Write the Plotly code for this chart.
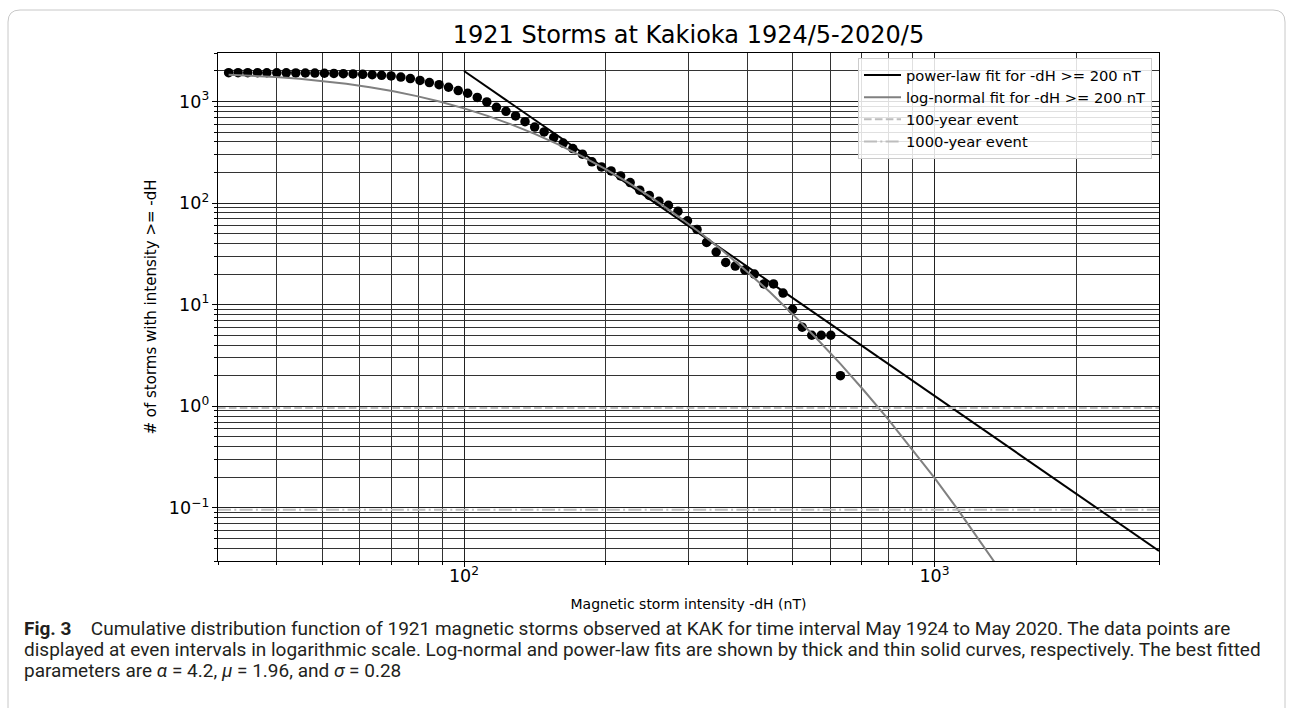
import math
import plotly.graph_objects as go

# ---------------- data ----------------
storm_dH = [31.6, 33.1, 34.7, 36.4, 38.1, 40.0, 41.9, 43.9, 46.0, 48.2,
            50.5, 52.9, 55.4, 58.1, 60.9, 63.8, 66.8, 70.0, 73.4, 76.9,
            80.6, 84.4, 88.5, 92.7, 97.2, 101.8, 106.7, 111.8, 117.2, 122.8,
            128.7, 134.8, 141.3, 148.0, 155.1, 162.5, 170.3, 178.5, 187.0, 196.0,
            205.4, 215.2, 225.5, 236.3, 247.6, 259.5, 271.9, 284.9, 298.5, 312.8,
            327.8, 343.5, 359.9, 377.2, 395.2, 414.1, 434.0, 454.8, 476.5, 499.3,
            523.3, 548.3, 574.5, 602.0, 631.0]
storm_count = [1921, 1921, 1920, 1919, 1918, 1916, 1914, 1911, 1907, 1902,
               1896, 1888, 1878, 1866, 1851, 1833, 1810, 1782, 1740, 1680,
               1610, 1533, 1465, 1380, 1280, 1205, 1095, 990, 877, 801,
               720, 632, 560, 501, 441, 390, 344, 303, 255, 227,
               207, 185, 159, 134, 119, 104, 95, 83, 67, 55,
               41, 33, 26, 24, 22, 20, 16, 16, 13, 9,
               6, 5, 5, 5, 2]

powerlaw_dH = [100, 3000]
powerlaw_count = [1995, 0.0377]

lognormal_dH = [31.6, 35.5, 39.8, 44.7, 50.1, 56.2, 63.1, 70.8, 79.4, 89.1,
                100, 112.2, 125.9, 141.3, 158.5, 177.8, 199.5, 223.9, 251.2, 281.8,
                316.2, 354.8, 398.1, 446.7, 501.2, 562.3, 631.0, 707.9, 794.3, 891.3,
                1000, 1122, 1259, 1413, 1585]
lognormal_count = [1833, 1792, 1738, 1671, 1589, 1493, 1382, 1260, 1129, 992,
                   855, 722, 595, 480, 378, 290, 217, 158, 112, 77.3,
                   51.9, 33.9, 21.5, 13.3, 7.93, 4.62, 2.61, 1.43, 0.76, 0.392,
                   0.197, 0.0955, 0.0452, 0.0207, 0.00915]

event_names = ["100-year event", "1000-year event"]
event_levels = [0.96, 0.096]

x_limits = [30, 3000]
y_limits = [0.03, 3000]

# plotly prints 10^0 and 10^1 as "1" and "10": relabel them as powers
y_label_alias = {"1": "10<sup>0</sup>", "10": "10<sup>1</sup>"}

caption_lines = [
    "<b>Fig. 3</b>\u2003Cumulative distribution function of 1921 magnetic storms observed at KAK "
    "for time interval May 1924 to May 2020. The data points are",
    "displayed at even intervals in logarithmic scale. Log-normal and power-law fits are shown "
    "by thick and thin solid curves, respectively. The best fitted",
    "parameters are <i>α</i> = 4.2, <i>μ</i> = 1.96, and <i>σ</i> = 0.28",
]

# ---------------- layout constants ----------------
W, H = 1293, 708
L, R, T, B = 218, 134, 53, 147
PW, PH = W - L - R, H - T - B
FONT = "DejaVu Sans"


def px2paper(px, py):
    return (px - L) / PW, (H - B - py) / PH


fig = go.Figure()

fig.add_trace(go.Scatter(
    x=storm_dH, y=storm_count, mode="markers",
    marker=dict(color="black", size=9.5, line=dict(width=0)),
    showlegend=False, hoverinfo="skip"))

fig.add_trace(go.Scatter(
    x=powerlaw_dH, y=powerlaw_count, mode="lines",
    line=dict(color="black", width=2),
    name="power-law fit for -dH >= 200 nT"))

fig.add_trace(go.Scatter(
    x=lognormal_dH, y=lognormal_count, mode="lines",
    line=dict(color="#808080", width=2),
    name="log-normal fit for -dH >= 200 nT"))

dashes = ["7.6px,3.3px", "13px,3.3px,2px,3.3px"]
for name, lvl, dsh in zip(event_names, event_levels, dashes):
    fig.add_trace(go.Scatter(
        x=x_limits, y=[lvl, lvl], mode="lines",
        line=dict(color="#bdbdbd", width=2, dash=dsh),
        name=name))

axis_common = dict(
    type="log", dtick=1, exponentformat="power", showexponent="all",
    showgrid=True, gridcolor="#222222", gridwidth=1,
    ticks="outside", ticklen=5, tickwidth=1, tickcolor="black",
    showline=True, linecolor="black", linewidth=1, mirror=True,
    zeroline=False, automargin=False,
    tickfont=dict(family=FONT, size=14, color="black"),
    minor=dict(dtick="D1", showgrid=True, gridcolor="#333333", gridwidth=1,
               ticks="outside", ticklen=3, tickwidth=1, tickcolor="black"),
)

fig.update_layout(
    template="none",
    width=W, height=H,
    margin=dict(l=L, r=R, t=T, b=B, pad=0),
    paper_bgcolor="white", plot_bgcolor="white",
    font=dict(family=FONT, size=14, color="black"),
    title=dict(text="1921 Storms at Kakioka 1924/5-2020/5",
               font=dict(family=FONT, size=24, color="black"),
               x=(L + PW / 2) / W, xanchor="center",
               y=1 - 35 / H, yanchor="middle", yref="container"),
    xaxis=dict(axis_common, range=[math.log10(x_limits[0]), math.log10(x_limits[1])],
               ticklabelstandoff=-5,
               title=dict(text="Magnetic storm intensity -dH (nT)",
                          font=dict(family=FONT, size=14), standoff=13)),
    yaxis=dict(axis_common, range=[math.log10(y_limits[0]), math.log10(y_limits[1])],
               labelalias=y_label_alias,
               title=dict(text="# of storms with intensity >= -dH",
                          font=dict(family=FONT, size=15), standoff=8)),
    legend=dict(x=px2paper(858, 0)[0], y=px2paper(0, 58)[1],
                xanchor="left", yanchor="top",
                bgcolor="rgba(255,255,255,0.85)", bordercolor="#cccccc", borderwidth=1,
                font=dict(family=FONT, size=14.7, color="black"),
                tracegroupgap=0, itemwidth=37),
    showlegend=True,
)

# caption below the chart, one annotation per line
for line, cy_px in zip(caption_lines, [628, 649, 670]):
    cx, cy = px2paper(22, cy_px)
    fig.add_annotation(text=line, xref="paper", yref="paper", x=cx, y=cy,
                       xanchor="left", yanchor="middle", align="left", showarrow=False,
                       font=dict(family="Roboto", size=19, color="#231f20"))

# rounded figure frame
x0, y0 = px2paper(8, 10)
x1, _ = px2paper(1285, 10)
_, yb = px2paper(0, 760)
rx = 12 / PW
ry = 12 / PH
path = (f"M {x0},{yb} L {x0},{y0 - ry} Q {x0},{y0} {x0 + rx},{y0} "
        f"L {x1 - rx},{y0} Q {x1},{y0} {x1},{y0 - ry} L {x1},{yb}")
fig.add_shape(type="path", path=path, xref="paper", yref="paper",
              line=dict(color="#c8c8c8", width=1), layer="above")

fig.write_html("out.html", config={"displayModeBar": False},
               post_script="document.body.style.margin='0';")
